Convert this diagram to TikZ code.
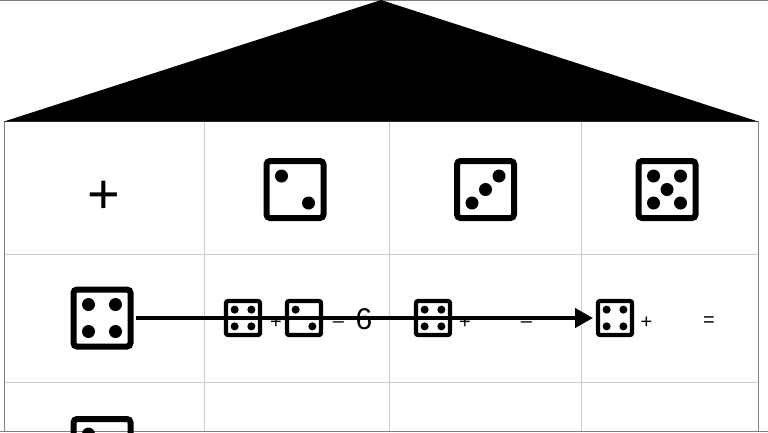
\documentclass[tikz,border=0pt]{standalone}
\usepackage{fontspec}
\setmainfont{Liberation Sans}
\usetikzlibrary{arrows.meta}
\tikzset{
    bigdie/.style={draw, line width=6pt, rounded corners=3.5pt, inner sep=0pt, outer sep=0pt, minimum size=57pt},
    smalldie/.style={draw, line width=4.2pt, rounded corners=2pt, inner sep=0pt, outer sep=0pt, minimum size=34pt},
    smallsign/.style={inner sep=0pt, font=\fontsize{20}{20}\selectfont},
    gridline/.style={draw=black!20, line width=1pt},
    edgeline/.style={draw=black!50, line width=1pt},
}
\newcommand{\diepips}[3]{
    \foreach \a/\b in {#3} {
        \fill (#1) ++(\a*13.5*#2,\b*13.5*#2) circle (6.5*#2);
    }
}
\begin{document}
\begin{tikzpicture}[x=1pt,y=-1pt]
\useasboundingbox (0,0) rectangle (768,432);
\clip (0,0) rectangle (768,432);
\fill[white] (0,0) rectangle (768,432);
% table
\foreach \x in {204,389,581} {
    \draw[gridline] (\x,121.5) -- (\x,432);
}
\foreach \y in {254,382} {
    \draw[gridline] (4.5,\y) -- (758,\y);
}
\draw[edgeline] (4.5,432) -- (4.5,121.5) -- (758,121.5) -- (758,432);
\draw[edgeline] (0,0.5) -- (768,0.5);
\draw[edgeline] (0,431.5) -- (768,431.5);
% roof
\fill (4,121.5) -- (381,0) -- (758,121.5) -- cycle;
% top row
\node[inner sep=0pt, font=\fontsize{56}{56}\selectfont] (plus) at (104,197.5) {+};
\node[bigdie] (two) at (295,189.5) {};
\node[bigdie] (three) at (485.5,189.5) {};
\node[bigdie] (five) at (667,189.5) {};
\diepips{two}{1}{-1/-1,1/1}
\diepips{three}{1}{-1/1,0/0,1/-1}
\diepips{five}{1}{-1/-1,1/-1,0/0,-1/1,1/1}
% left column
\node[bigdie] (four) at (102,318) {};
\node[bigdie] (lower) at (102,447.5) {};
\diepips{four}{1}{-1/-1,1/-1,-1/1,1/1}
\diepips{lower}{1}{-1/-1,1/1}
% second row
\node[smalldie] (sa) at (243,318) {};
\node[smalldie] (sb) at (304,318) {};
\node[smalldie] (sc) at (433,318) {};
\node[smalldie] (sd) at (615,318) {};
\diepips{sa}{0.62}{-1/-1,1/-1,-1/1,1/1}
\diepips{sb}{0.62}{-1/-1,1/1}
\diepips{sc}{0.62}{-1/-1,1/-1,-1/1,1/1}
\diepips{sd}{0.62}{-1/-1,1/-1,-1/1,1/1}
\node[smallsign] (pa) at (276,323) {+};
\node[smallsign] (ma) at (338.5,325) {--};
\node[inner sep=0pt, font=\fontsize{30}{30}\selectfont] (six) at (364,319) {6};
\node[smallsign] (pb) at (465,323) {+};
\node[smallsign] (mb) at (526.5,325) {--};
\node[smallsign] (pc) at (646.5,323) {+};
\node[smallsign] (eq) at (709,322) {=};
% arrow
\draw[line width=4pt, -{Triangle[length=18pt,width=19pt]}, shorten <=5.5pt, shorten >=5pt] (four.east) -- (sd.west);
\end{tikzpicture}
\end{document}
